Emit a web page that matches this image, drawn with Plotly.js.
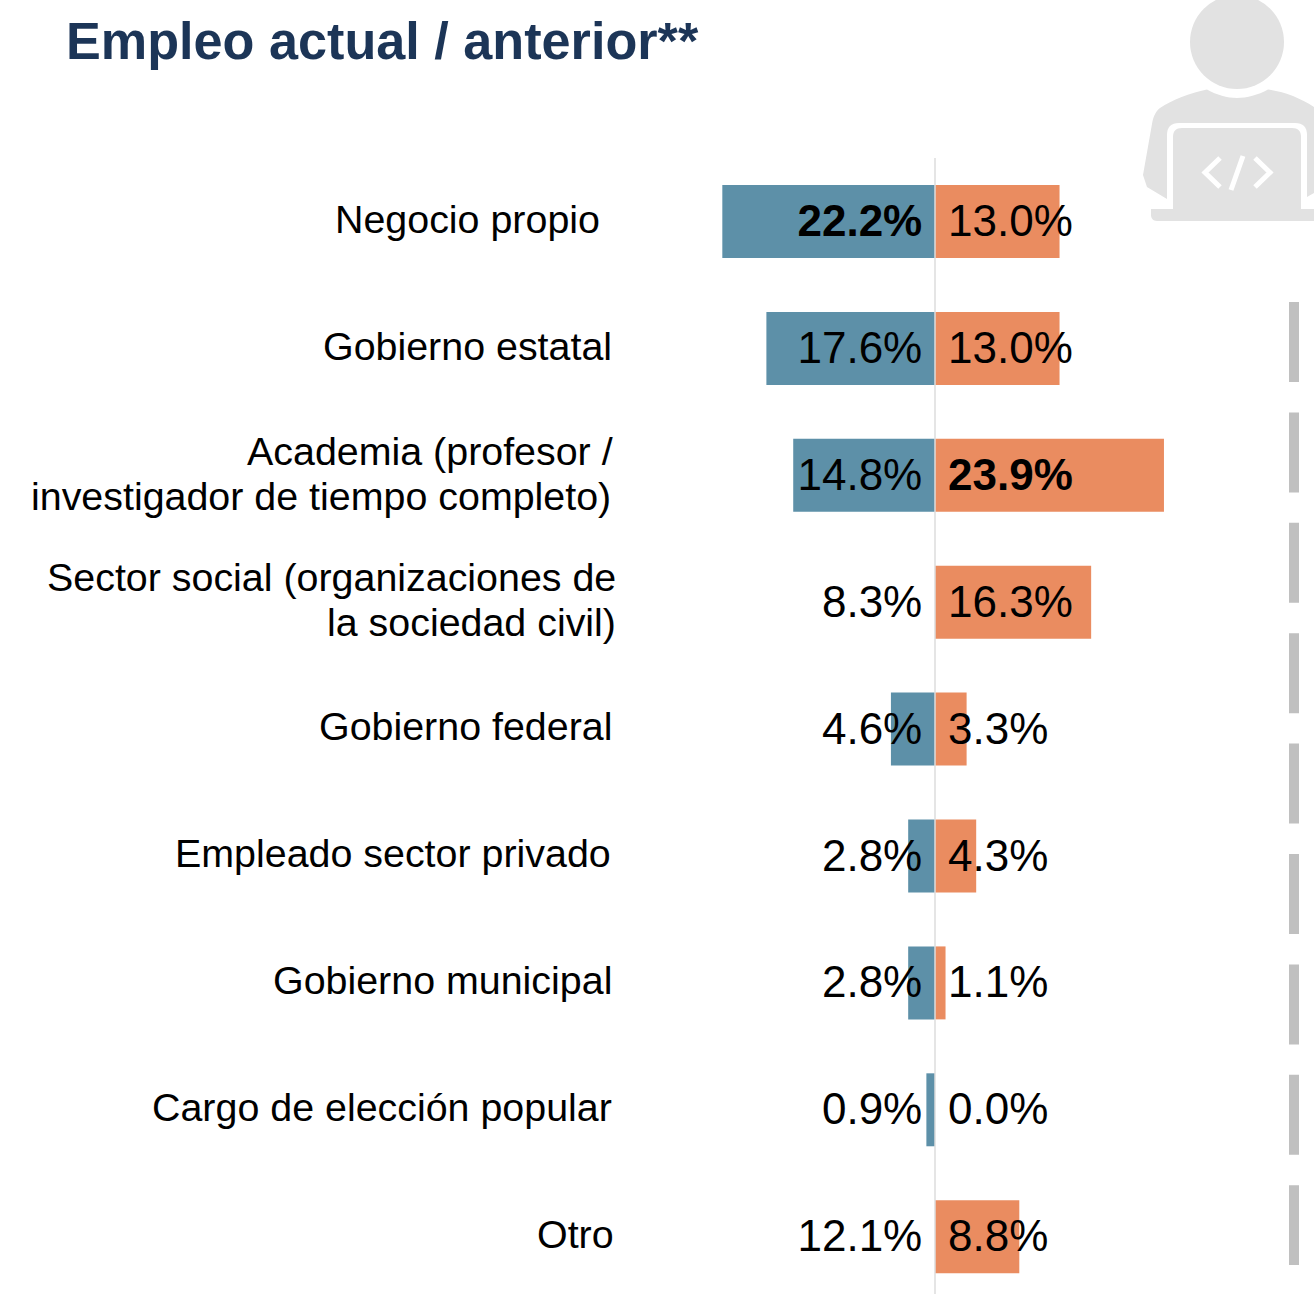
<!DOCTYPE html>
<html><head><meta charset="utf-8">
<script src="https://cdn.plot.ly/plotly-3.0.1.min.js"></script>
<style>html,body{margin:0;padding:0;background:#fff;overflow:hidden}</style>
</head><body><div id="chart" style="width:1314px;height:1294px"></div>
<script>
const categories = ["Negocio propio","Gobierno estatal","Academia","Sector social","Gobierno federal","Empleado sector privado","Gobierno municipal","Cargo de elección popular","Otro"];
const labelLines = [["Negocio propio"],["Gobierno estatal"],["Academia (profesor /","investigador de tiempo completo)"],["Sector social (organizaciones de","la sociedad civil)"],["Gobierno federal"],["Empleado sector privado"],["Gobierno municipal"],["Cargo de elección popular"],["Otro"]];
const actualBars = [22.2,17.6,14.8,0,4.6,2.8,2.8,0.9,0];
const actualLabels = ["22.2%","17.6%","14.8%","8.3%","4.6%","2.8%","2.8%","0.9%","12.1%"];
const anteriorBars = [13.0,13.0,23.9,16.3,3.3,4.3,1.1,0,8.8];
const anteriorLabels = ["13.0%","13.0%","23.9%","16.3%","3.3%","4.3%","1.1%","0.0%","8.8%"];
const boldActual = [true,false,false,false,false,false,false,false,false];
const boldAnterior = [false,false,true,false,false,false,false,false,false];

const W=1314,H=1294,PX_PER_PCT=9.58,ZERO_PX=935,ROW0=221.5,ROW_STEP=126.9;
const FONT="Liberation Sans, Arial, sans-serif", GREY="#e2e2e2";
const px=x=>x/W, py=y=>1-y/H;
const P=(c)=>c.replace(/(-?[\d.]+),(-?[\d.]+)/g,(m,a,b)=>px(+a).toFixed(5)+","+py(+b).toFixed(5));
const pathShape=(d,fill,lw,lc)=>({type:"path",xref:"paper",yref:"paper",path:P(d),fillcolor:fill||"rgba(0,0,0,0)",line:{color:lc||fill,width:lw||0},layer:"above"});
const circle=(cx,cy,r)=>({type:"circle",xref:"paper",yref:"paper",x0:px(cx-r),x1:px(cx+r),y0:py(cy+r),y1:py(cy-r),fillcolor:GREY,line:{width:0},layer:"below"});

const lineGap=45/ROW_STEP;
const rightEdge={"Negocio propio":601,"Gobierno estatal":613,"Academia (profesor /":614,"investigador de tiempo completo)":612,"Sector social (organizaciones de":617,"la sociedad civil)":617,"Gobierno federal":613,"Empleado sector privado":612,"Gobierno municipal":613,"Cargo de elección popular":613,"Otro":615};
const rowShift={"Negocio propio":-1,"Gobierno estatal":-1,"Sector social (organizaciones de":-1.5,"la sociedad civil)":-1.5,"Gobierno federal":-2,"Empleado sector privado":-2,"Gobierno municipal":-1,"Cargo de elección popular":-1,"Otro":-1};
const annotations=[];
labelLines.forEach((lines,i)=>lines.forEach((t,j)=>{
  annotations.push({xref:"paper",yref:"y",x:px(rightEdge[t]),y:i+(j-(lines.length-1)/2)*lineGap+(-1.5+(rowShift[t]||0))/ROW_STEP,text:t,showarrow:false,xanchor:"right",yanchor:"middle",borderpad:0,font:{family:FONT,size:39.4,color:"#000"}});
}));

const textDrop=3.5/ROW_STEP;
const traces=[
 {type:"bar",orientation:"h",name:"Actual",y:categories.map((c,i)=>i),x:actualBars.map(v=>-v),marker:{color:"#5d90a8"},width:0.575,hoverinfo:"skip"},
 {type:"bar",orientation:"h",name:"Anterior",y:categories.map((c,i)=>i),x:anteriorBars,marker:{color:"#ea8c60"},width:0.575,hoverinfo:"skip"},
 {type:"scatter",mode:"text",x:categories.map(()=>-1.33),y:categories.map((c,i)=>i+textDrop),text:actualLabels,textposition:"middle left",textfont:{family:FONT,size:44,color:"#000",weight:boldActual.map(b=>b?700:400)},hoverinfo:"skip"},
 {type:"scatter",mode:"text",x:categories.map(()=>1.36),y:categories.map((c,i)=>i+textDrop),text:anteriorLabels,textposition:"middle right",textfont:{family:FONT,size:44,color:"#000",weight:boldAnterior.map(b=>b?700:400)},hoverinfo:"skip"}
];

const shapes=[
 circle(1237,42,47),
 pathShape("M1207,89.5 C1190,93 1172,100 1160,108 C1155,112 1153,118 1152,124 L1143,175 L1147,187 L1167,199 L1167,215 L1307,215 L1307,197 L1314,193 L1314,107 C1300,98 1285,92 1268,89.5 C1258,95 1247,98 1237,98 C1227,98 1217,95 1207,89.5 Z",GREY),
 pathShape("M1167,199 L1167,135 C1167,127 1171,123 1179,123 L1295,123 C1303,123 1307,127 1307,135 L1307,215 L1167,215 Z","#ffffff"),
 pathShape("M1173,137 C1173,131 1176,128 1182,128 L1292,128 C1298,128 1301,131 1301,137 L1301,209 L1173,209 Z",GREY),
 pathShape("M1151,209 L1314,209 L1314,221 L1157,221 C1153,221 1151,218 1151,215 Z",GREY),
 pathShape("M1220,158 L1205,172.5 L1220,187",null,5,"#ffffff"),
 pathShape("M1243,156 L1231,190",null,5,"#ffffff"),
 pathShape("M1255,158 L1270,172.5 L1255,187",null,5,"#ffffff"),
 {type:"line",xref:"x",yref:"paper",x0:0,x1:0,y0:py(158),y1:py(1294),line:{color:"#dcdcdc",width:1.5},layer:"above"},
 {type:"line",xref:"paper",yref:"paper",x0:px(1294),x1:px(1294),y0:py(302),y1:py(1265),line:{color:"#c0c0c0",width:10,dash:"80px,30.4px"},layer:"above"}
];

const layout={
 width:W,height:H,margin:{l:0,r:0,t:0,b:0},paper_bgcolor:"#fff",plot_bgcolor:"rgba(0,0,0,0)",showlegend:false,barmode:"overlay",
 title:{text:"<b>Empleo actual / anterior**</b>",x:66/W,xanchor:"left",xref:"paper",y:1-40.5/H,yanchor:"middle",font:{family:FONT,size:52.2,color:"#1c3557"}},
 xaxis:{range:[-ZERO_PX/PX_PER_PCT,(W-ZERO_PX)/PX_PER_PCT],visible:false,fixedrange:true},
 yaxis:{range:[(H-ROW0)/ROW_STEP,-ROW0/ROW_STEP],visible:false,fixedrange:true},
 annotations,shapes
};
Plotly.newPlot("chart",traces,layout,{staticPlot:true,displayModeBar:false});
</script></body></html>
